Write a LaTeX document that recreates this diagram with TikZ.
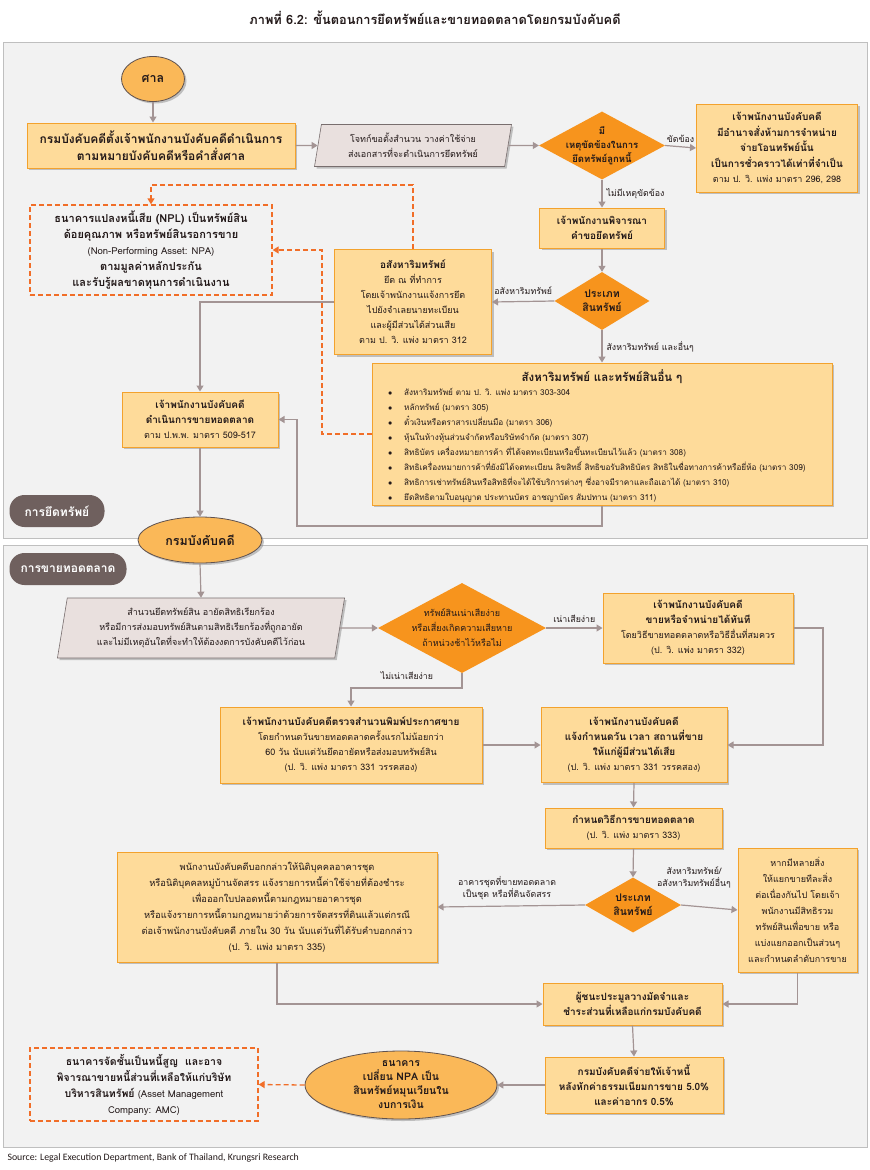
\documentclass[tikz,border=0pt]{standalone}
\usepackage{fontspec}
\setmainfont{Loma}[Script=Thai]
\newfontfamily\srcfont{Carlito}
\usetikzlibrary{shapes.geometric,arrows.meta,shadows,positioning}

\definecolor{panelbg}{RGB}{242,242,242}
\definecolor{panelline}{RGB}{191,191,191}
\definecolor{boxfill}{RGB}{254,219,154}
\definecolor{boxline}{RGB}{243,162,45}
\definecolor{parafill}{RGB}{233,224,222}
\definecolor{paraline}{RGB}{120,110,110}
\definecolor{diafill}{RGB}{247,148,29}
\definecolor{ellfill}{RGB}{250,184,88}
\definecolor{ellline}{RGB}{95,82,80}
\definecolor{pillcol}{RGB}{111,96,94}
\definecolor{linecol}{RGB}{163,148,148}
\definecolor{dashcol}{RGB}{241,110,40}
\definecolor{textcol}{RGB}{35,25,25}

\tikzset{
  base/.style={font=\fontsize{9}{15}\selectfont, text=textcol, align=center, inner sep=2pt},
  shade/.style={drop shadow={shadow xshift=2pt, shadow yshift=-2pt, fill=black!45, opacity=0.5}},
  box/.style={base, rectangle, draw=boxline, fill=boxfill, line width=1pt, shade},
  boldbox/.style={box, font=\fontsize{10}{15}\selectfont\bfseries},
  para/.style={base, trapezium, trapezium left angle=80, trapezium right angle=100,
    trapezium stretches=true, draw=paraline, fill=parafill, line width=0.6pt, shade},
  dia/.style={diamond, fill=diafill, draw=none, inner sep=0pt},
  diatext/.style={base, font=\fontsize{9.5}{14}\selectfont\bfseries},
  oval/.style={ellipse, draw=ellline, fill=ellfill, line width=0.8pt, shade,
    font=\fontsize{12.5}{15}\selectfont\bfseries, text=textcol, align=center, inner sep=0pt},
  npabox/.style={base, rectangle, draw=dashcol, line width=1.3pt, dash pattern=on 5pt off 3pt},
  pill/.style={rectangle, rounded corners=15pt, fill=pillcol, text=white,
    font=\fontsize{12}{14}\selectfont\bfseries},
  panel/.style={draw=panelline, fill=panelbg, line width=0.8pt},
  link/.style={draw=linecol, line width=1.2pt},
  flow/.style={link, -{Triangle[width=7pt,length=6pt]}},
  dflow/.style={draw=dashcol, line width=1.3pt, dash pattern=on 5pt off 3pt,
    -{Triangle[width=7pt,length=6pt]}},
  lbl/.style={font=\fontsize{8.8}{12}\selectfont, text=textcol, align=center, inner sep=1pt},
}

\newcommand{\bt}[1]{\textbf{\fontsize{10}{15}\selectfont #1}}
\newcommand{\itm}{\makebox[16pt][l]{$\bullet$}}

\begin{document}
\begin{tikzpicture}[x=1pt, y=-1pt]

\useasboundingbox (0,0) rectangle (870,1170);
\fill[white] (0,0) rectangle (870,1170);

\node[font=\fontsize{12.8}{14}\selectfont\bfseries, text=textcol] (title) at (435,18)
  {ภาพที่ 6.2: ขั้นตอนการยึดทรัพย์และขายทอดตลาดโดยกรมบังคับคดี};

% panels
\draw[panel] (3,42) rectangle (867,538);
\draw[panel] (3,545) rectangle (867,1147);
\node[pill, minimum width=95, minimum height=32] (seize) at (57,511) {การยึดทรัพย์};
\node[pill, minimum width=117, minimum height=32] (sale) at (68,569) {การขายทอดตลาด};

%%% seizure
\node[oval, minimum width=63, minimum height=45] (court) at (153,79) {ศาล};
\node[boldbox, minimum width=268, minimum height=45, font=\fontsize{12}{17}\selectfont\bfseries] (appoint) at (161,145.5)
  {กรมบังคับคดีตั้งเจ้าพนักงานบังคับคดีดำเนินการ\\ตามหมายบังคับคดีหรือคำสั่งศาล};
\node[para, minimum width=197, minimum height=42] (plaintiff) at (413,145.5)
  {โจทก์ขอตั้งสำนวน วางค่าใช้จ่าย\\ส่งเอกสารที่จะดำเนินการยึดทรัพย์};
\node[dia, minimum width=126, minimum height=68] (obstacle) at (602,145.5) {};
\node[diatext] (obstaclet) at (obstacle) {มี\\เหตุขัดข้องในการ\\ยึดทรัพย์ลูกหนี้};
\node[box, minimum width=161, minimum height=88, font=\fontsize{9}{15.5}\selectfont] (restrain) at (777,148)
  {\bt{เจ้าพนักงานบังคับคดี}\\\bt{มีอำนาจสั่งห้ามการจำหน่าย}\\\bt{จ่ายโอนทรัพย์นั้น}\\\bt{เป็นการชั่วคราวได้เท่าที่จำเป็น}\\ตาม ป. วิ. แพ่ง มาตรา 296, 298};
\node[boldbox, minimum width=125, minimum height=40] (consider) at (602,228)
  {เจ้าพนักงานพิจารณา\\คำขอยึดทรัพย์};
\node[dia, minimum width=95, minimum height=58] (kind) at (602,301) {};
\node[diatext, font=\fontsize{10.5}{14}\selectfont\bfseries] (kindt) at (kind) {ประเภท\\สินทรัพย์};
\node[box, minimum width=157, minimum height=105] (immov) at (413,302)
  {\bt{อสังหาริมทรัพย์}\\ยึด ณ ที่ทำการ\\โดยเจ้าพนักงานแจ้งการยึด\\ไปยังจำเลยนายทะเบียน\\และผู้มีส่วนได้ส่วนเสีย\\ตาม ป. วิ. แพ่ง มาตรา 312};
\node[npabox, minimum width=242, minimum height=90, font=\fontsize{9.5}{16}\selectfont] (npl) at (151,250)
  {{\fontsize{11}{16}\selectfont\textbf{ธนาคารแปลงหนี้เสีย (NPL) เป็นทรัพย์สิน}}\\{\fontsize{11}{16}\selectfont\textbf{ด้อยคุณภาพ หรือทรัพย์สินรอการขาย}}\\(Non-Performing Asset: NPA)\\{\fontsize{11}{16}\selectfont\textbf{ตามมูลค่าหลักประกัน}}\\{\fontsize{11}{16}\selectfont\textbf{และรับรู้ผลขาดทุนการดำเนินงาน}}};
\node[box, minimum width=460, minimum height=142] (movables) at (602,434) {};
\node[base, font=\fontsize{11.5}{13}\selectfont\bfseries] (movtitle) at (602,377)
  {สังหาริมทรัพย์ และทรัพย์สินอื่น ๆ};
\node[base, anchor=north west, align=left, font=\fontsize{8.2}{15}\selectfont] (movlist) at (386,386)
  {\itm สังหาริมทรัพย์ ตาม ป. วิ. แพ่ง มาตรา 303-304\\
   \itm หลักทรัพย์ (มาตรา 305)\\
   \itm ตั๋วเงินหรือตราสารเปลี่ยนมือ (มาตรา 306)\\
   \itm หุ้นในห้างหุ้นส่วนจำกัดหรือบริษัทจำกัด (มาตรา 307)\\
   \itm สิทธิบัตร เครื่องหมายการค้า ที่ได้จดทะเบียนหรือขึ้นทะเบียนไว้แล้ว (มาตรา 308)\\
   \itm สิทธิเครื่องหมายการค้าที่ยังมิได้จดทะเบียน ลิขสิทธิ์ สิทธิขอรับสิทธิบัตร สิทธิในชื่อทางการค้าหรือยี่ห้อ (มาตรา 309)\\
   \itm สิทธิการเช่าทรัพย์สินหรือสิทธิที่จะได้ใช้บริการต่างๆ ซึ่งอาจมีราคาและถือเอาได้ (มาตรา 310)\\
   \itm ยึดสิทธิตามใบอนุญาต ประทานบัตร อาชญาบัตร สัมปทาน (มาตรา 311)};
\node[box, minimum width=156, minimum height=55] (auction) at (200,419.5)
  {\bt{เจ้าพนักงานบังคับคดี}\\\bt{ดำเนินการขายทอดตลาด}\\ตาม ป.พ.พ. มาตรา 509-517};

\draw[flow] (court.south) -- (court.south |- appoint.north);
\draw[flow] (appoint.east) -- (plaintiff.west);
\draw[flow] (plaintiff.east) -- (obstacle.west);
\draw[flow] (obstacle.east) -- (restrain.west) node[lbl, midway, above=3pt] {ขัดข้อง};
\draw[flow] (obstacle.south) -- (consider.north) node[lbl, midway, right=3pt] {ไม่มีเหตุขัดข้อง};
\draw[flow] (consider.south) -- (kind.north);
\draw[flow] (kind.west) -- (immov.east) node[lbl, midway, above=5pt] {อสังหาริมทรัพย์};
\draw[flow] (kind.south) -- (movables.north) node[lbl, midway, right=3pt] {สังหาริมทรัพย์ และอื่นๆ};
\draw[flow] (immov.west) -| (auction.north);
\coordinate (movdown) at (602,526);
\coordinate (movback) at (297,526);
\draw[flow] (movables.south) -- (movdown) -- (movback) |- (auction.east);
\coordinate (npltop) at (413,185);
\draw[dflow] (immov.north) -- (npltop) -| (npl.north);
\coordinate (nplside) at (322,434);
\draw[dflow] (movables.west) -- (nplside) |- (npl.east);

%%% sale
\node[oval, minimum width=124, minimum height=46] (led) at (200,540) {กรมบังคับคดี};
\draw[flow] (auction.south) -- (led.north);

\node[para, minimum width=288, minimum height=60] (case) at (201,628)
  {สำนวนยึดทรัพย์สิน อายัดสิทธิเรียกร้อง\\หรือมีการส่งมอบทรัพย์สินตามสิทธิเรียกร้องที่ถูกอายัด\\และไม่มีเหตุอันใดที่จะทำให้ต้องงดการบังคับคดีไว้ก่อน};
\node[dia, minimum width=168, minimum height=90] (perish) at (462,628) {};
\node[base] (perisht) at (perish) {ทรัพย์สินเน่าเสียง่าย\\หรือเสี่ยงเกิดความเสียหาย\\ถ้าหน่วงช้าไว้หรือไม่};
\node[box, minimum width=190, minimum height=70] (sellnow) at (698,628)
  {\bt{เจ้าพนักงานบังคับคดี}\\\bt{ขายหรือจำหน่ายได้ทันที}\\โดยวิธีขายทอดตลาดหรือวิธีอื่นที่สมควร\\(ป. วิ. แพ่ง มาตรา 332)};
\node[box, minimum width=262, minimum height=76] (announce) at (351,745)
  {\bt{เจ้าพนักงานบังคับคดีตรวจสำนวนพิมพ์ประกาศขาย}\\โดยกำหนดวันขายทอดตลาดครั้งแรกไม่น้อยกว่า\\60 วัน นับแต่วันยึดอายัดหรือส่งมอบทรัพย์สิน\\(ป. วิ. แพ่ง มาตรา 331 วรรคสอง)};
\node[box, minimum width=186, minimum height=75] (notify) at (634,745)
  {\bt{เจ้าพนักงานบังคับคดี}\\\bt{แจ้งกำหนดวัน เวลา สถานที่ขาย}\\\bt{ให้แก่ผู้มีส่วนได้เสีย}\\(ป. วิ. แพ่ง มาตรา 331 วรรคสอง)};
\node[box, minimum width=177, minimum height=40] (method) at (633.5,828)
  {\bt{กำหนดวิธีการขายทอดตลาด}\\(ป. วิ. แพ่ง มาตรา 333)};
\node[dia, minimum width=96, minimum height=55] (kindb) at (633,905) {};
\node[diatext, font=\fontsize{10.5}{14}\selectfont\bfseries] (kindbt) at (kindb) {ประเภท\\สินทรัพย์};
\node[box, minimum width=320, minimum height=110, font=\fontsize{9.3}{16}\selectfont] (condo) at (277,907)
  {พนักงานบังคับคดีบอกกล่าวให้นิติบุคคลอาคารชุด\\หรือนิติบุคคลหมู่บ้านจัดสรร แจ้งรายการหนี้ค่าใช้จ่ายที่ต้องชำระ\\เพื่อออกใบปลอดหนี้ตามกฎหมายอาคารชุด\\หรือแจ้งรายการหนี้ตามกฎหมายว่าด้วยการจัดสรรที่ดินแล้วแต่กรณี\\ต่อเจ้าพนักงานบังคับคดี ภายใน 30 วัน นับแต่วันที่ได้รับคำบอกกล่าว\\(ป. วิ. แพ่ง มาตรา 335)};
\node[box, minimum width=119, minimum height=124, font=\fontsize{9}{16}\selectfont] (multi) at (797.5,910)
  {หากมีหลายสิ่ง\\ให้แยกขายทีละสิ่ง\\ต่อเนื่องกันไป โดยเจ้า\\พนักงานมีสิทธิรวม\\ทรัพย์สินเพื่อขาย หรือ\\แบ่งแยกออกเป็นส่วนๆ\\และกำหนดลำดับการขาย};
\node[boldbox, minimum width=179, minimum height=42] (winner) at (632.5,1004)
  {ผู้ชนะประมูลวางมัดจำและ\\ชำระส่วนที่เหลือแก่กรมบังคับคดี};
\node[boldbox, minimum width=178, minimum height=56] (pay) at (634,1085)
  {กรมบังคับคดีจ่ายให้เจ้าหนี้\\หลังหักค่าธรรมเนียมการขาย 5.0\%\\และค่าอากร 0.5\%};
\node[oval, minimum width=192, minimum height=68, font=\fontsize{10.5}{14}\selectfont\bfseries] (bank) at (401,1085)
  {ธนาคาร\\เปลี่ยน NPA เป็น\\สินทรัพย์หมุนเวียนใน\\งบการเงิน};
\node[npabox, minimum width=228, minimum height=73, font=\fontsize{9.5}{16}\selectfont] (amc) at (144,1084.5)
  {{\fontsize{10.5}{16}\selectfont\textbf{ธนาคารจัดชั้นเป็นหนี้สูญ\ \ และอาจ}}\\{\fontsize{10.5}{16}\selectfont\textbf{พิจารณาขายหนี้ส่วนที่เหลือให้แก่บริษัท}}\\{\fontsize{10.5}{16}\selectfont\textbf{บริหารสินทรัพย์}} (Asset Management\\Company: AMC)};

\draw[flow] (led.south) -- (case.north);
\draw[flow] (case.east) -- (perish.west);
\draw[flow] (perish.east) -- (sellnow.west) node[lbl, midway, above=4pt] {เน่าเสียง่าย};
\coordinate (perishdown) at (462,688);
\draw[flow] (perish.south) -- (perishdown) -| (announce.north);
\node[lbl] (notperish) at (407,676) {ไม่เน่าเสียง่าย};
\coordinate (sellright) at (823,628);
\draw[flow] (sellnow.east) -- (sellright) |- (notify.east);
\draw[flow] (announce.east) -- (notify.west);
\draw[flow] (notify.south) -- (method.north);
\draw[flow] (method.south) -- (kindb.north);
\draw[flow] (kindb.west) -- (condo.east);
\node[lbl] (condolbl) at (507,888) {อาคารชุดที่ขายทอดตลาด\\เป็นชุด หรือที่ดินจัดสรร};
\draw[flow] (kindb.east) -- (multi.west);
\node[lbl] (multilbl) at (694,877) {สังหาริมทรัพย์/\\อสังหาริมทรัพย์อื่นๆ};
\draw[flow] (condo.south) |- (winner.west);
\draw[flow] (multi.south) |- (winner.east);
\draw[flow] (winner.south) -- (pay.north);
\draw[flow] (pay.west) -- (bank.east);
\draw[dflow] (bank.west) -- (amc.east);

\node[anchor=west, font=\srcfont\fontsize{9.8}{11}\selectfont, text=textcol] (source) at (4,1158)
  {Source: Legal Execution Department, Bank of Thailand, Krungsri Research};

\end{tikzpicture}
\end{document}
